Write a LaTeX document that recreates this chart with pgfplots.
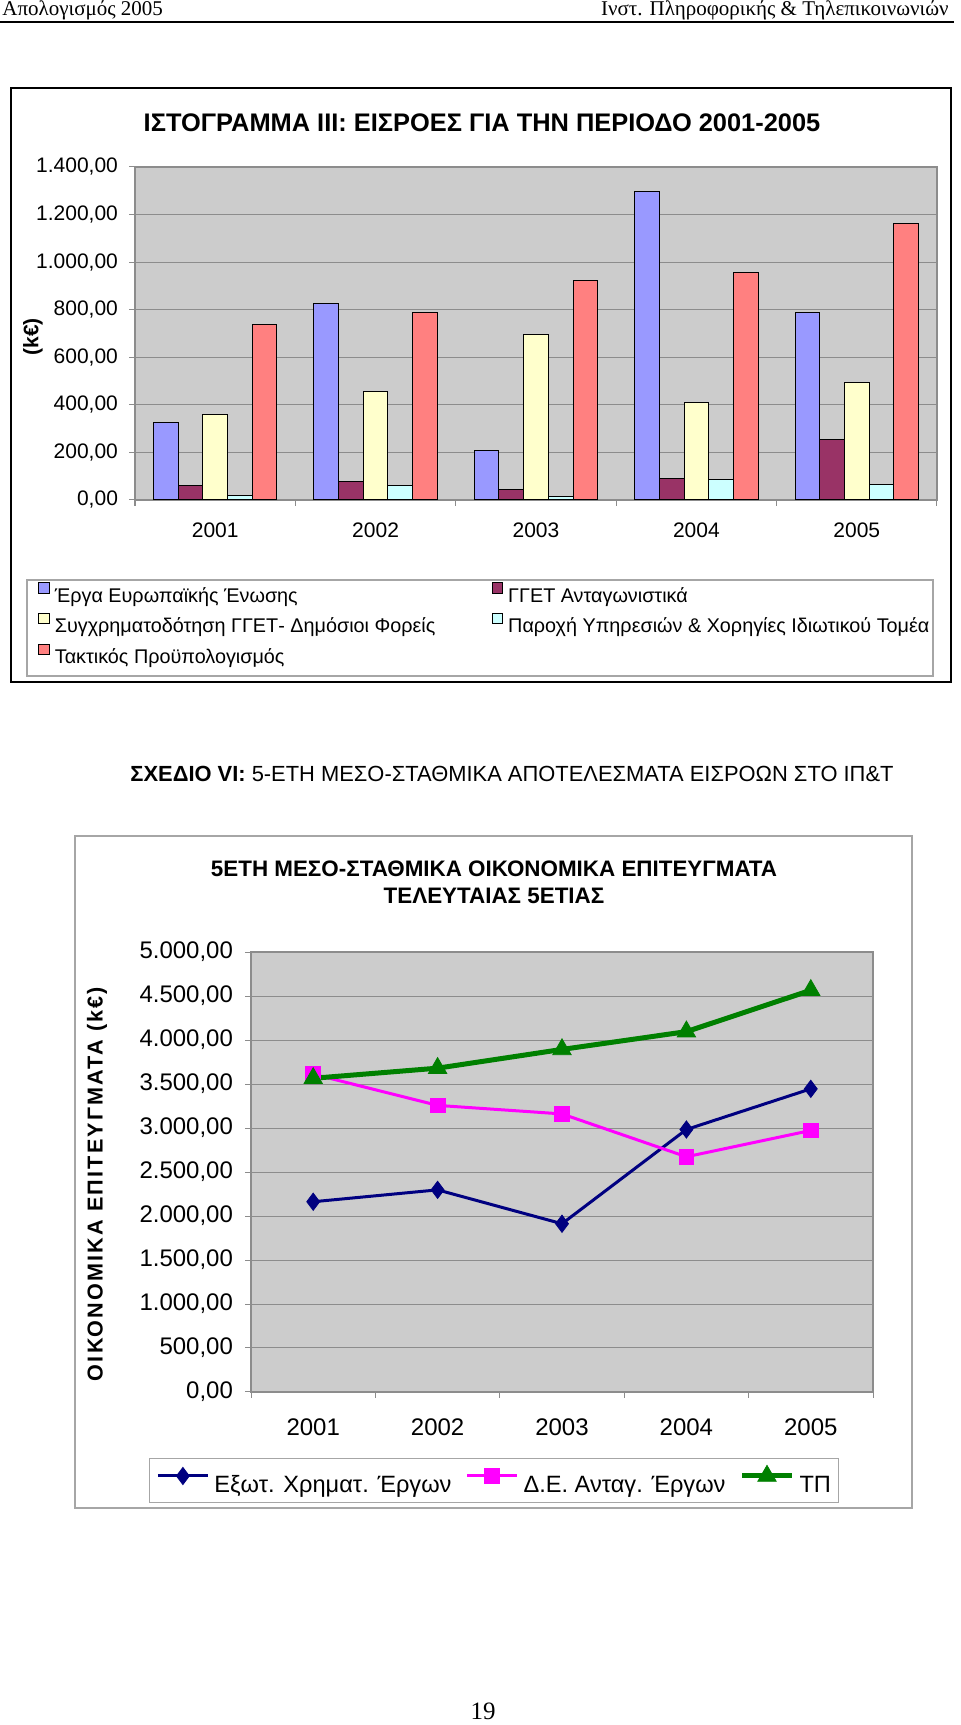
\documentclass[border=0pt]{standalone}
\usepackage{pgfplots}
\pgfplotsset{compat=1.18}
\usepackage{fontspec}
\setmainfont{Liberation Sans}
\newfontfamily\timesf{Liberation Serif}
\newfontfamily\spacedf[LetterSpace=10]{Liberation Sans}

\definecolor{cEU}{HTML}{9999FF}
\definecolor{cGG}{HTML}{993366}
\definecolor{cSY}{HTML}{FFFFCC}
\definecolor{cPA}{HTML}{CCFFFF}
\definecolor{cTP}{HTML}{FF8080}
\definecolor{plotbg}{HTML}{CCCCCC}
\definecolor{gridc}{HTML}{8C8C8C}
\definecolor{lnavy}{HTML}{000080}
\definecolor{lmag}{HTML}{FF00FF}
\definecolor{lgreen}{HTML}{008000}

\pgfplotsset{
  excelnum/.style={
    /pgf/number format/fixed, /pgf/number format/fixed zerofill,
    /pgf/number format/precision=2, /pgf/number format/use comma,
    /pgf/number format/1000 sep={.}, /pgf/number format/assume math mode=true},
}

\begin{document}
\begin{tikzpicture}
\useasboundingbox (0pt,0pt) rectangle (480pt,862.5pt);

% page header
\node[anchor=base west, font=\timesf\fontsize{10.5}{12}\selectfont, inner sep=0pt] at (1pt,854.5pt) {Απολογισμός 2005};
\node[anchor=base east, font=\timesf\fontsize{10.5}{12}\selectfont, inner sep=0pt] at (474.5pt,854.5pt) {Ινστ. Πληροφορικής \& Τηλεπικοινωνιών};
\draw[line width=0.8pt] (0pt,851.5pt) -- (477pt,851.5pt);

% ---------- chart 1 ----------
\draw[line width=1pt] (5.5pt,818.5pt) rectangle (475.5pt,521.5pt);
\node[font=\bfseries\fontsize{12.7}{14}\selectfont] at (241pt,801pt) {ΙΣΤΟΓΡΑΜΜΑ III: ΕΙΣΡΟΕΣ ΓΙΑ ΤΗΝ ΠΕΡΙΟΔΟ 2001-2005};

\begin{axis}[
  at={(67.5pt,612.5pt)}, anchor=south west,
  scale only axis, width=401pt, height=166.5pt,
  xmin=-0.5, xmax=4.5, ymin=0, ymax=1400,
  ybar=0pt, bar width=12.35pt,
  xtick={0,...,4}, xticklabels={2001,2002,2003,2004,2005},
  minor xtick={-0.5,0.5,...,4.5},
  ytick={0,200,...,1400},
  scaled y ticks=false,
  yticklabel style={xshift=-2pt, excelnum},
  xticklabel style={yshift=-5pt},
  tick label style={font=\fontsize{10.5}{12}\selectfont},
  tick align=outside, tick pos=left,
  major x tick style={draw=none},
  major tick length=3pt, minor tick length=3pt,
  every tick/.style={draw=gridc, line width=0.5pt},
  ymajorgrids, grid style={draw=gridc, line width=0.5pt},
  axis background/.style={fill=plotbg},
  axis line style={draw=gridc, line width=0.6pt},
  legend columns=2,
  legend cell align=left,
  legend style={draw=none, fill=none, inner sep=0pt,
    at={(axis description cs:-0.1209,-0.2460)}, anchor=north west,
    row sep=3.9pt, font=\fontsize{9.9}{12}\selectfont,
    nodes={inner sep=0pt},
    /tikz/every odd column/.style={column sep=2.5pt},
    /tikz/every even column/.style={column sep=0pt}},
  legend image code/.code={\draw[#1,draw=black,line width=0.5pt] (0pt,1pt) rectangle (5.2pt,6.2pt);},
]
\addplot[fill=cEU, draw=black, line width=0.5pt] coordinates {(0,326) (1,827) (2,209) (3,1295) (4,788)};
\addlegendentry{\makebox[218.5pt][l]{\strut Έργα Ευρωπαϊκής Ένωσης}}
\addplot[fill=cGG, draw=black, line width=0.5pt] coordinates {(0,59) (1,79) (2,46) (3,91) (4,254)};
\addlegendentry{\strut ΓΓΕΤ Ανταγωνιστικά}
\addplot[fill=cSY, draw=black, line width=0.5pt] coordinates {(0,358) (1,455) (2,697) (3,410) (4,493)};
\addlegendentry{\makebox[218.5pt][l]{\strut Συγχρηματοδότηση ΓΓΕΤ- Δημόσιοι Φορείς}}
\addplot[fill=cPA, draw=black, line width=0.5pt] coordinates {(0,20) (1,59) (2,14) (3,86) (4,66)};
\addlegendentry{\strut Παροχή Υπηρεσιών \& Χορηγίες Ιδιωτικού Τομέα}
\addplot[fill=cTP, draw=black, line width=0.5pt] coordinates {(0,736) (1,788) (2,924) (3,956) (4,1164)};
\addlegendentry{\makebox[218.5pt][l]{\strut Τακτικός Προϋπολογισμός}}
\end{axis}

\draw[draw=gray!70, line width=0.6pt] (13.5pt,572.5pt) rectangle (466.5pt,524.5pt);
\node[rotate=90, font=\bfseries\fontsize{10.5}{12}\selectfont] at (16.5pt,694pt) {(k€)};

% ---------- caption between charts ----------
\node[anchor=west, font=\fontsize{10.95}{13}\selectfont, inner sep=0pt] at (65pt,475.5pt) {\textbf{ΣΧΕΔΙΟ VI:} 5-ΕΤΗ ΜΕΣΟ-ΣΤΑΘΜΙΚΑ ΑΠΟΤΕΛΕΣΜΑΤΑ ΕΙΣΡΟΩΝ ΣΤΟ ΙΠ\&Τ};

% ---------- chart 2 ----------
\draw[draw=gray!70, line width=0.6pt] (37.5pt,444.5pt) rectangle (456pt,108.5pt);
\node[font=\bfseries\fontsize{11.2}{13}\selectfont] at (247pt,428pt) {5ΕΤΗ ΜΕΣΟ-ΣΤΑΘΜΙΚΑ ΟΙΚΟΝΟΜΙΚΑ ΕΠΙΤΕΥΓΜΑΤΑ};
\node[font=\bfseries\fontsize{11.2}{13}\selectfont] at (247pt,414.5pt) {ΤΕΛΕΥΤΑΙΑΣ 5ΕΤΙΑΣ};

\begin{axis}[
  at={(125.5pt,166.5pt)}, anchor=south west,
  scale only axis, width=311pt, height=220pt,
  xmin=-0.5, xmax=4.5, ymin=0, ymax=5000,
  xtick={0,...,4}, xticklabels={2001,2002,2003,2004,2005},
  minor xtick={-0.5,0.5,...,4.5},
  ytick={0,500,...,5000},
  scaled y ticks=false,
  yticklabel style={xshift=-2.5pt, excelnum},
  xticklabel style={yshift=-7pt},
  tick label style={font=\fontsize{12}{14}\selectfont},
  tick align=outside, tick pos=left,
  major x tick style={draw=none},
  major tick length=3pt, minor tick length=3pt,
  every tick/.style={draw=gridc, line width=0.5pt},
  ymajorgrids, grid style={draw=gridc, line width=0.5pt},
  axis background/.style={fill=plotbg},
  axis line style={draw=gridc, line width=0.6pt},
  legend columns=3,
  legend style={draw=gray!70, fill=white, inner sep=3.5pt,
    at={(axis description cs:-0.164,-0.15)}, anchor=north west,
    font=\fontsize{11.8}{14}\selectfont,
    nodes={inner sep=0pt},
    /tikz/every odd column/.style={column sep=2.5pt},
    /tikz/every even column/.style={column sep=7pt}},
  legend image code/.code={\draw[mark repeat=2,mark phase=2,#1] plot coordinates {(0pt,4.2pt) (12.5pt,4.2pt) (25pt,4.2pt)};},
]
\addplot[color=lnavy, line width=1.5pt, mark=diamond*, mark size=4.3pt, mark options={line width=0.4pt}] coordinates {(0,2162) (1,2297) (2,1912) (3,2983) (4,3445)};
\addlegendentry{\strut Εξωτ. Χρηματ. Έργων}
\addplot[color=lmag, line width=1.5pt, mark=square*, mark size=3.7pt, mark options={line width=0.4pt}] coordinates {(0,3612) (1,3257) (2,3160) (3,2673) (4,2972)};
\addlegendentry{\strut Δ.Ε. Ανταγ. Έργων}
\addplot[color=lgreen, line width=2.5pt, mark=triangle*, mark size=5.3pt, mark options={line width=0.4pt}] coordinates {(0,3565) (1,3680) (2,3893) (3,4095) (4,4565)};
\addlegendentry{\strut ΤΠ}
\end{axis}

\node[rotate=90, font=\spacedf\bfseries\fontsize{10.8}{12}\selectfont] at (48.5pt,270.5pt) {ΟΙΚΟΝΟΜΙΚΑ ΕΠΙΤΕΥΓΜΑΤΑ (k€)};

% page number
\node[anchor=base, inner sep=0pt, font=\timesf\fontsize{12.5}{14}\selectfont] at (241.5pt,2.5pt) {19};
\end{tikzpicture}
\end{document}
